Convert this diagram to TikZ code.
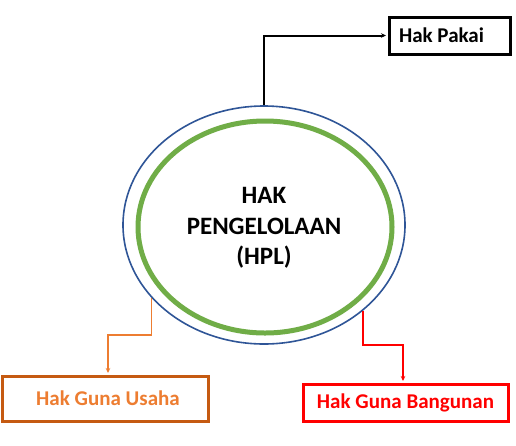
\documentclass[tikz,border=0pt]{standalone}
\usepackage{fontspec}
\setmainfont{Carlito}
\usetikzlibrary{shapes.geometric,arrows.meta}
\definecolor{eblue}{HTML}{2F5597}
\definecolor{egreen}{HTML}{70AD47}
\definecolor{obox}{HTML}{C55A11}
\definecolor{otext}{HTML}{ED7D31}
\definecolor{rred}{HTML}{FF0000}
\tikzset{
  labbox/.style={draw, line width=3pt, inner sep=0pt, font=\fontsize{21}{24}\selectfont\bfseries},
  conn/.style={line width=1.5pt, -{Stealth[length=5pt,width=4.5pt]}, shorten >=1.5pt},
}
\begin{document}
\begin{tikzpicture}[x=1pt,y=-1pt]
\useasboundingbox (0,0) rectangle (516,445);
\fill[white] (0,0) rectangle (516,445);
\node[ellipse, draw=eblue, line width=1.6pt, minimum width=282pt, minimum height=238pt, inner sep=0pt] (hpl) at (264,225) {};
\node[ellipse, draw=egreen, line width=5pt, minimum width=254pt, minimum height=212pt, inner sep=0pt] (inner) at (265,227) {};
\node[align=center, font=\fontsize{25}{30.5}\selectfont\bfseries, inner sep=0pt] (title) at (264,228) {HAK\\PENGELOLAAN\\(HPL)};
\node[labbox, draw=black, minimum width=121pt, minimum height=37pt] (pakai) at (449.5,35.5) {Hak Pakai\hspace*{16pt}};
\node[labbox, draw=obox, text=otext, minimum width=206pt, minimum height=45pt] (usaha) at (105,398.5) {\hspace*{6pt}Hak Guna Usaha};
\node[labbox, draw=rred, text=rred, minimum width=205pt, minimum height=37pt] (bangunan) at (405.5,402.5) {Hak Guna Bangunan};
\draw[conn, black, line width=2pt] (hpl.north) |- (pakai.west);
\draw[conn, otext] (hpl.213) |- (130,335) -| (usaha.north -| 108,0);
\draw[conn, rred] (hpl.319) |- (380,345) -| (bangunan.north -| 403,0);
\end{tikzpicture}
\end{document}
